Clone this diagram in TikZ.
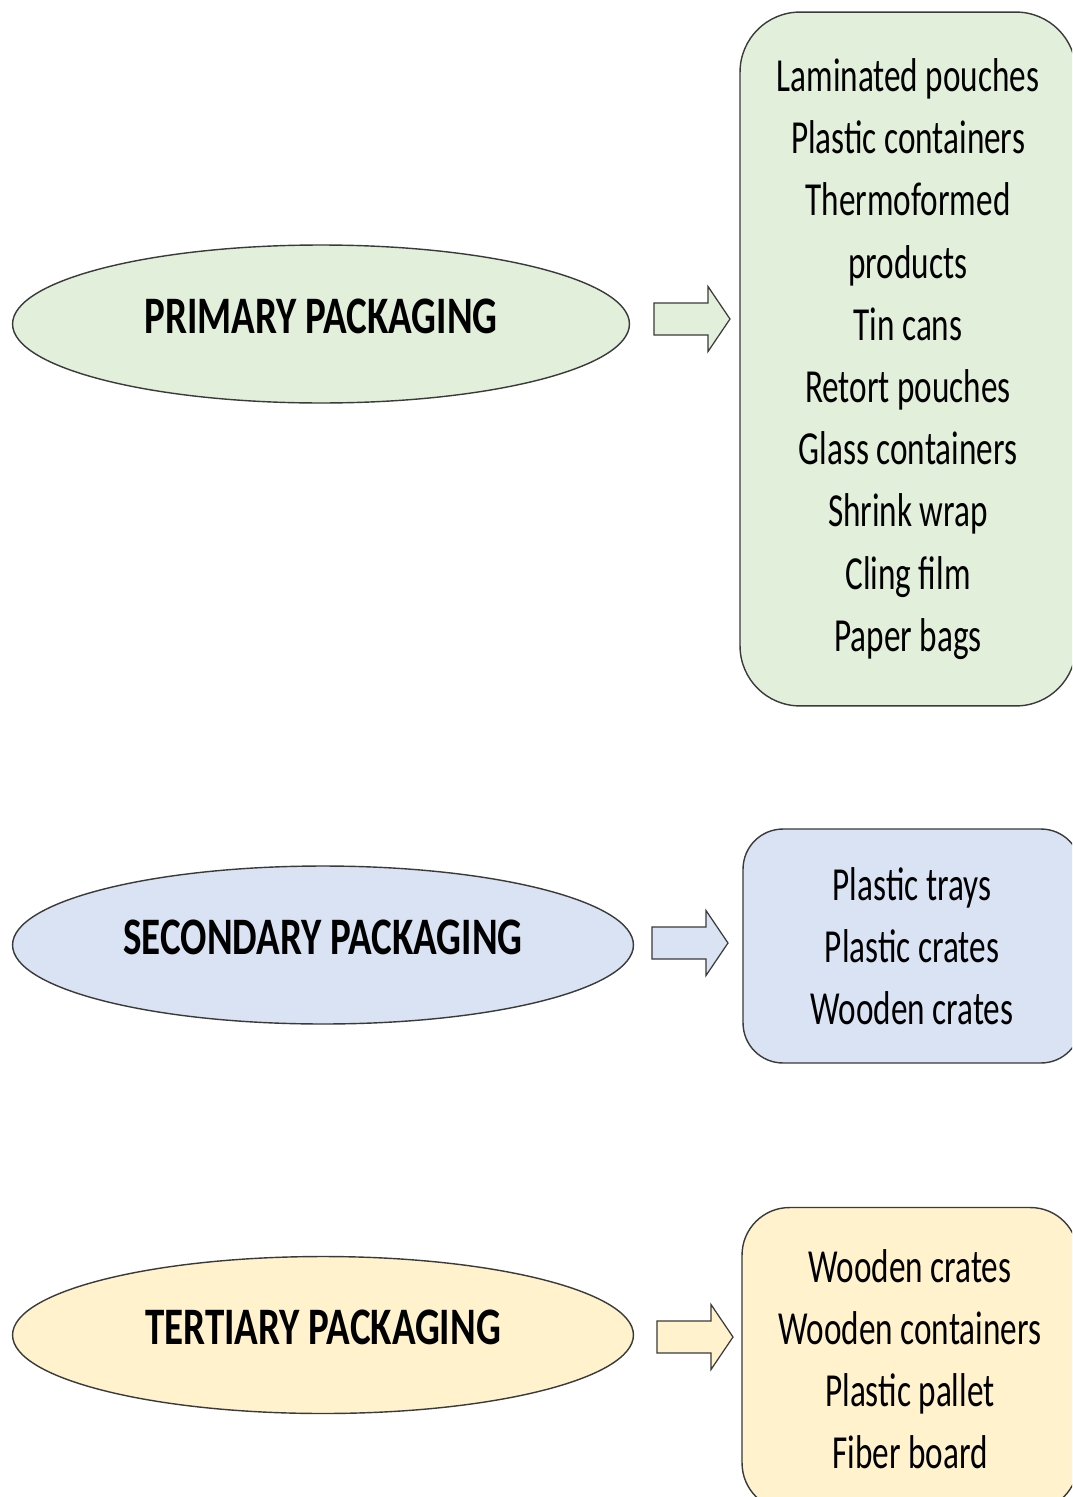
\documentclass[tikz,border=0pt]{standalone}
\usepackage{fontspec}
\usetikzlibrary{shapes.geometric}
\newfontfamily\itemfont{Carlito}[FakeStretch=0.7]
\newfontfamily\headfont{Carlito}[FakeStretch=0.74]
\definecolor{primfill}{HTML}{E2EFDA}
\definecolor{secfill}{HTML}{DAE3F3}
\definecolor{tertfill}{HTML}{FFF2CC}
\definecolor{edge}{HTML}{3A3A3A}
\tikzset{
  kind/.style={ellipse,draw=edge,line width=0.8pt,inner sep=0pt,text depth=0.3cm,
    font=\headfont\bfseries\fontsize{30}{36}\selectfont},
  itembox/.style={rectangle,draw=edge,line width=0.8pt,align=center,
    font=\itemfont\fontsize{27}{35.4}\selectfont},
  blockarrow/.style={draw=edge,line width=0.7pt,line join=miter}
}
\begin{document}
\begin{tikzpicture}[x=0.02cm,y=-0.02cm]
\clip (0,0) rectangle (1072,1497);
\fill[white] (0,0) rectangle (1072,1497);
% the three kinds of packaging
\node[kind,fill=primfill,minimum width=12.34cm,minimum height=3.16cm] (primary) at (321,324) {PRIMARY PACKAGING};
\node[kind,fill=secfill,minimum width=12.42cm,minimum height=3.16cm] (secondary) at (323,945) {SECONDARY PACKAGING};
\node[kind,fill=tertfill,minimum width=12.42cm,minimum height=3.14cm] (tertiary) at (323,1335) {TERTIARY PACKAGING};
% what goes in each
\node[itembox,fill=primfill,rounded corners=1.2cm,minimum width=6.72cm,minimum height=13.88cm] (primlist) at (908,359)
  {Laminated pouches\\Plastic containers\\Thermoformed\\products\\Tin cans\\Retort pouches\\Glass containers\\Shrink wrap\\Cling film\\Paper bags};
\node[itembox,fill=secfill,rounded corners=0.8cm,minimum width=6.76cm,minimum height=4.68cm] (seclist) at (912,946)
  {Plastic trays\\Plastic crates\\Wooden crates};
\node[itembox,fill=tertfill,rounded corners=0.95cm,minimum width=6.72cm,minimum height=6.06cm] (tertlist) at (910,1359)
  {Wooden crates\\Wooden containers\\Plastic pallet\\Fiber board};
% block arrows
\foreach \xa/\ya/\col in {654/319/primfill,652/943/secfill,657/1337/tertfill}
  \draw[blockarrow,fill=\col] (\xa,\ya-16) -- (\xa+54,\ya-16) -- (\xa+54,\ya-32.5) -- (\xa+76,\ya)
    -- (\xa+54,\ya+32.5) -- (\xa+54,\ya+16) -- (\xa,\ya+16) -- cycle;
\end{tikzpicture}
\end{document}
